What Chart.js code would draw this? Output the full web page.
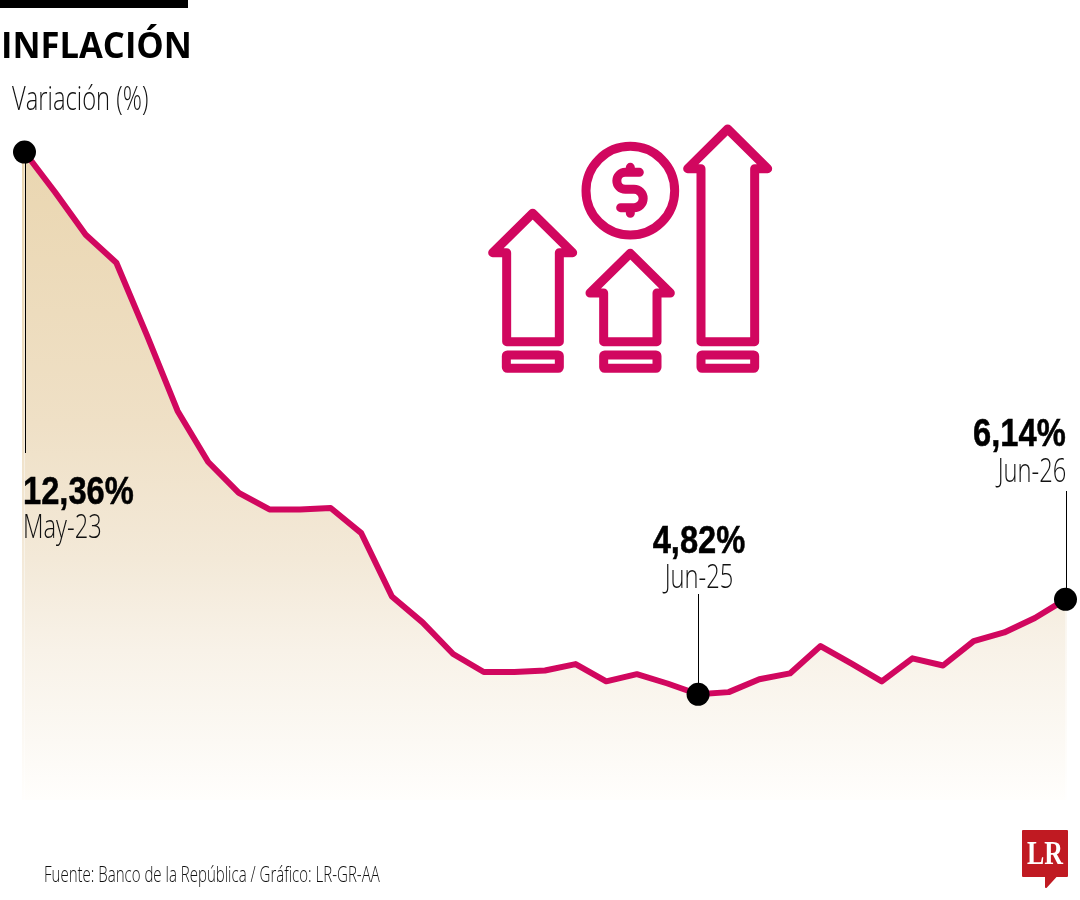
<!doctype html>
<html lang="es">
<head>
<meta charset="utf-8">
<title>Inflación</title>
<script src="https://cdn.jsdelivr.net/npm/chart.js@4/dist/chart.umd.min.js"></script>
<style>
  html, body { margin: 0; background: #fff; }
  #page { position: relative; width: 1080px; height: 900px; overflow: hidden; color: #111; }
  #inflacion { position: absolute; left: 0; top: 0; }
  #rule { position: absolute; left: 0; top: 0; width: 188px; height: 8px; background: #000; }
  .txt { position: absolute; white-space: nowrap; line-height: 1; transform-origin: left top; }
  .txt.right { transform-origin: right top; text-align: right; }
  .txt.mid { transform-origin: center top; text-align: center; }
  .light { font-family: "Open Sans", "Noto Sans", sans-serif; font-weight: 300; }
  .value { font-family: "Liberation Sans", sans-serif; font-weight: 700; font-size: 38px; color: #000; transform: scaleX(0.86); -webkit-text-stroke: 0.5px #000; }
  .period { font-size: 33px; transform: scaleX(0.72); }
  #title { left: 1px; top: 27px; font-family: "Open Sans", sans-serif; font-weight: 700; font-size: 36px; color: #000; transform: scaleX(0.96); }
  #subtitle { left: 12px; top: 81px; font-size: 33px; transform: scaleX(0.72); }
  #source { left: 44px; top: 862px; font-size: 22px; transform: scaleX(0.683); }
  #icon, #logo { position: absolute; }
  #icon { left: 470px; top: 110px; }
  #logo { left: 1020px; top: 828px; }
</style>
</head>
<body>
<div id="page">
  <canvas id="inflacion" width="1080" height="900"></canvas>
  <div id="rule"></div>
  <div class="txt" id="title">INFLACIÓN</div>
  <div class="txt light" id="subtitle">Variación (%)</div>

  <div class="txt value" id="val0" style="left:23px;top:472px"></div>
  <div class="txt light period" id="per0" style="left:23px;top:509px"></div>
  <div class="txt value mid" id="val22" style="left:599px;width:200px;top:521px"></div>
  <div class="txt light period mid" id="per22" style="left:599px;width:200px;top:559px"></div>
  <div class="txt value right" id="val34" style="right:14px;top:414px"></div>
  <div class="txt light period right" id="per34" style="right:14px;top:453px"></div>

  <div class="txt light" id="source">Fuente: Banco de la República / Gráfico: LR-GR-AA</div>

  <!-- icono de flechas -->
  <svg id="icon" width="320" height="280" viewBox="0 0 960 840" fill="none" stroke="#d1075f" stroke-width="27" stroke-linejoin="round" stroke-linecap="round">
    <path d="M110 695V428H68L188 310L308 428H268V695Z"/>
    <rect x="109" y="735" width="159" height="40" rx="3"/>
    <path d="M401 695V549H360L481 430L601 549H561V695Z"/>
    <rect x="401" y="735" width="160" height="40" rx="3"/>
    <path d="M693 695V176H653L773 57L893 176H854V695Z"/>
    <rect x="693" y="735" width="161" height="40" rx="3"/>
    <circle cx="481" cy="242" r="133"/>
    <path d="M508 187H466A25.5 25.5 0 0 0 466 238H492A27.5 27.5 0 0 1 492 293H452M481 172V187M481 293V310"/>
  </svg>

  <!-- logo LR -->
  <svg id="logo" width="50" height="62" viewBox="0 0 50 62">
    <path d="M3 3H47V48H36L26 59V48H3Z" fill="#c01a22" stroke="#c01a22" stroke-width="2" stroke-linejoin="round"/>
    <text x="25" y="36" text-anchor="middle" font-family="Liberation Serif" font-weight="700" font-size="33" fill="#fff" textLength="36" lengthAdjust="spacingAndGlyphs">LR</text>
  </svg>
</div>

<script>
// periodos: solo se rotulan los meses que lleva la línea
const periods = [
  "May-23", "", "", "", "", "", "", "", "", "", "", "",
  "", "", "", "", "", "", "", "", "", "",
  "Jun-25", "", "", "", "", "", "", "", "", "", "", "",
  "Jun-26",
];

const inflation = [
  12.36, 11.8, 11.21, 10.82, 9.81, 8.76, 8.05, 7.62, 7.39, 7.39, 7.41, 7.06,
  6.18, 5.82, 5.38, 5.13, 5.13, 5.15, 5.24, 5.0, 5.1, 4.97,
  4.82, 4.85, 5.03, 5.11, 5.49, 5.25, 5.0, 5.32, 5.22, 5.56, 5.68, 5.88,
  6.14,
];

// puntos destacados y hasta dónde sube o baja su línea guía (px)
const marked = [0, 22, 34];
const leaderEnds = { 0: 453, 22: 594, 34: 491 };

const fillStops = [
  [0, "#ead6b0"],
  [0.42, "#efe0c6"],
  [0.63, "#f3e9d8"],
  [0.77, "#f8f2e8"],
  [0.91, "#fcf9f4"],
  [1, "#fffefc"],
];

marked.forEach((i) => {
  document.getElementById("val" + i).textContent =
    inflation[i].toFixed(2).replace(".", ",") + "%";
  document.getElementById("per" + i).textContent = periods[i];
});

function fillGradient(chart) {
  const { ctx, chartArea } = chart;
  if (!chartArea) return fillStops[0][1];
  const g = ctx.createLinearGradient(0, chartArea.top + 44, 0, chartArea.bottom);
  fillStops.forEach(([pos, color]) => g.addColorStop(pos, color));
  return g;
}

// franjas del relleno a los lados de la línea y líneas guía
const extras = {
  id: "extras",
  beforeDatasetsDraw(chart) {
    const { ctx, chartArea, scales } = chart;
    const yFirst = scales.y.getPixelForValue(inflation[0]);
    const yLast = scales.y.getPixelForValue(inflation[34]);
    ctx.save();
    ctx.fillStyle = fillGradient(chart);
    ctx.fillRect(22, yFirst, chartArea.left - 22, chartArea.bottom - yFirst);
    ctx.fillRect(chartArea.right, yLast, 1, chartArea.bottom - yLast);
    ctx.restore();
  },
  afterDatasetsDraw(chart) {
    const { ctx, scales } = chart;
    ctx.save();
    ctx.strokeStyle = "#000";
    ctx.lineWidth = 1;
    marked.forEach((i) => {
      const x = Math.round(scales.x.getPixelForValue(i)) + 0.5;
      ctx.beginPath();
      ctx.moveTo(x, scales.y.getPixelForValue(inflation[i]));
      ctx.lineTo(x, leaderEnds[i]);
      ctx.stroke();
    });
    ctx.restore();
  },
};

new Chart(document.getElementById("inflacion"), {
  type: "line",
  data: {
    labels: periods,
    datasets: [
      {
        data: inflation,
        borderColor: "#d1075f",
        borderWidth: 6,
        borderJoinStyle: "round",
        tension: 0,
        fill: "start",
        backgroundColor: (c) => fillGradient(c.chart),
        pointRadius: (c) => (marked.includes(c.dataIndex) ? 11.5 : 0),
        pointBackgroundColor: "#000",
        pointBorderWidth: 0,
        clip: false,
      },
    ],
  },
  options: {
    responsive: false,
    animation: false,
    layout: {
      padding: { left: 24.5, right: 14.5, top: 106, bottom: 100 },
    },
    plugins: {
      legend: { display: false },
      tooltip: { enabled: false },
    },
    scales: {
      x: { display: false },
      y: { display: false, min: 3.35, max: 13 },
    },
  },
  plugins: [extras],
});
</script>
</body>
</html>
